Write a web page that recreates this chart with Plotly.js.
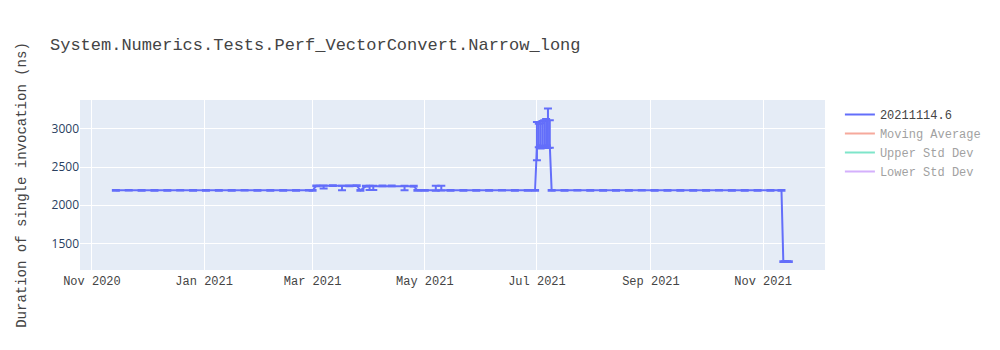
<!DOCTYPE html>
<html>
<head>
<meta charset="utf-8">
<script src="https://cdn.plot.ly/plotly-3.0.1.min.js"></script>
<style>html,body{margin:0;padding:0;background:#fff;}#chart{width:1000px;height:350px;}</style>
</head>
<body>
<div id="chart"></div>
<script>
// Build dates for the main series
var dates = [
  '2020-11-14','2020-11-21','2020-11-28','2020-12-05','2020-12-12','2020-12-19','2020-12-26',
  '2021-01-02','2021-01-09','2021-01-16','2021-01-23','2021-01-30','2021-02-06','2021-02-13',
  '2021-02-20','2021-02-27','2021-03-01',
  '2021-03-03','2021-03-07','2021-03-12','2021-03-17','2021-03-21','2021-03-25','2021-03-27',
  '2021-03-30','2021-04-01','2021-04-03','2021-04-08','2021-04-13','2021-04-20','2021-04-25',
  '2021-04-27','2021-05-01','2021-05-07','2021-05-10','2021-05-15','2021-05-22','2021-05-29',
  '2021-06-05','2021-06-12','2021-06-19','2021-06-26','2021-06-30',
  '2021-07-01','2021-07-02','2021-07-03','2021-07-04','2021-07-05','2021-07-06','2021-07-07','2021-07-08',
  '2021-07-09','2021-07-16','2021-07-23','2021-07-30','2021-08-06','2021-08-13','2021-08-20',
  '2021-08-27','2021-09-03','2021-09-10','2021-09-17','2021-09-24','2021-10-01','2021-10-08',
  '2021-10-15','2021-10-22','2021-10-29','2021-11-05','2021-11-11',
  '2021-11-12','2021-11-13','2021-11-14','2021-11-15'
];
var durations = [
  2195,2196,2195,2194,2195,2196,2195,
  2195,2194,2195,2196,2195,2195,2194,
  2195,2196,2195,
  2255,2255,2256,2250,2255,2256,2195,
  2250,2250,2250,2255,2252,2250,2250,
  2195,2195,2195,2196,2195,2194,2195,
  2195,2196,2195,2195,2195,
  2780,2790,2775,2785,2780,2790,2780,2785,
  2195,2195,2196,2195,2194,2195,2195,
  2196,2195,2195,2194,2195,2195,2196,
  2195,2195,2194,2195,2195,
  1260,1260,1261,1260
];
var errUp = [
  4,4,4,4,4,4,4,
  4,4,4,4,4,4,4,
  4,4,4,
  5,5,5,5,5,5,4,
  5,5,5,5,5,5,5,
  4,4,60,60,4,4,4,
  4,4,4,4,4,
  310,280,300,320,335,340,490,330,
  4,4,4,4,4,4,4,
  4,4,4,4,4,4,4,
  4,4,4,4,4,
  4,4,4,4
];
var errDown = [
  4,4,4,4,4,4,4,
  4,4,4,4,4,4,4,
  4,4,4,
  5,35,5,55,5,5,4,
  5,50,50,5,5,55,5,
  4,4,4,4,4,4,4,
  4,4,4,4,4,
  190,30,30,30,30,30,30,30,
  4,4,4,4,4,4,4,
  4,4,4,4,4,4,4,
  4,4,4,4,4,
  4,4,4,4
];
var seriesNames = ['20211114.6','Moving Average','Upper Std Dev','Lower Std Dev'];
var seriesColors = ['#636efa','#EF553B','#00cc96','#ab63fa'];
var yTickVals = [1500,2000,2500,3000];
var xTickVals = ['2020-11-01','2021-01-01','2021-03-01','2021-05-01','2021-07-01','2021-09-01','2021-11-01'];
var xTickText = ['Nov 2020','Jan 2021','Mar 2021','May 2021','Jul 2021','Sep 2021','Nov 2021'];

var mono = 'Courier New, Liberation Mono, monospace';
var sans = '"Open Sans", verdana, arial, sans-serif';

var traces = [{
  type: 'scatter', mode: 'lines', name: seriesNames[0],
  x: dates, y: durations,
  line: {color: seriesColors[0], width: 2},
  error_y: {type: 'data', symmetric: false, array: errUp, arrayminus: errDown,
            color: seriesColors[0], thickness: 2, width: 4, visible: true}
}];
for (var i = 1; i < 4; i++) {
  traces.push({
    type: 'scatter', mode: 'lines', name: seriesNames[i],
    x: dates, y: durations, visible: 'legendonly',
    line: {color: seriesColors[i], width: 2}
  });
}

var layout = {
  width: 1000, height: 350,
  margin: {l: 80, r: 175, t: 100, b: 80},
  paper_bgcolor: '#ffffff', plot_bgcolor: '#E5ECF6',
  font: {family: mono, size: 12, color: '#444'},
  title: {text: 'System.Numerics.Tests.Perf_VectorConvert.Narrow_long', x: 0.05, xanchor: 'left',
          font: {family: mono, size: 17, color: '#444'}},
  xaxis: {
    type: 'date', range: ['2020-10-25 12:00', '2021-12-04 16:00'],
    tickvals: xTickVals, ticktext: xTickText,
    tickfont: {family: mono, size: 12, color: '#444'},
    gridcolor: '#ffffff', linecolor: '#ffffff', zeroline: false, ticks: ''
  },
  yaxis: {
    range: [1150, 3380], tickvals: yTickVals,
    tickfont: {family: sans, size: 12, color: '#2a3f5f'},
    gridcolor: '#ffffff', zeroline: false, ticks: '',
    title: {text: 'Duration of single invocation (ns)', standoff: 21,
            font: {family: mono, size: 14, color: '#444'}}
  },
  legend: {font: {family: mono, size: 12, color: '#444'}, x: 1.02, y: 1},
  showlegend: true
};

Plotly.newPlot('chart', traces, layout, {displayModeBar: false});
</script>
</body>
</html>
